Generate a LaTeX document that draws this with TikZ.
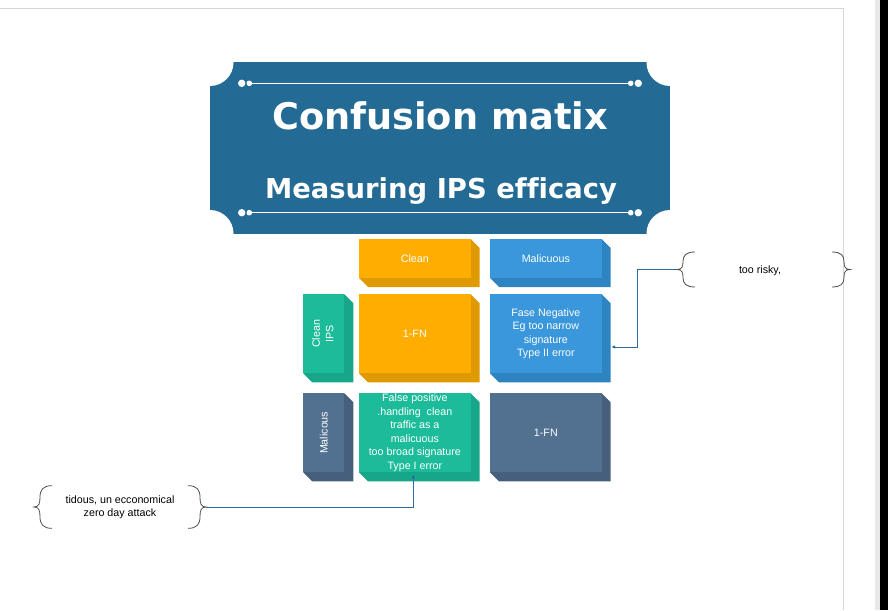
\documentclass[tikz,border=0pt]{standalone}
\usepackage{fontspec}
\setmainfont{Liberation Sans}
\newfontfamily\titlefont[Ligatures=NoCommon]{DejaVu Sans}
\usepackage{graphicx}
\usepackage{tikz}
\usetikzlibrary{arrows.meta,calc}
\pgfdeclarelayer{background}
\pgfsetlayers{background,main}

\definecolor{bannerblue}{HTML}{236A94}
\definecolor{orFront}{HTML}{FFAE00}
\definecolor{orSide}{HTML}{DE9A00}
\definecolor{blFront}{HTML}{3A97DB}
\definecolor{blSide}{HTML}{2E83C1}
\definecolor{tlFront}{HTML}{1CBC9B}
\definecolor{tlSide}{HTML}{17A689}
\definecolor{slFront}{HTML}{52708F}
\definecolor{slSide}{HTML}{455F7C}
\definecolor{linkblue}{HTML}{2B6A9B}
\definecolor{bracegray}{HTML}{505050}
\definecolor{framegray}{HTML}{D6D6D6}

\newcommand{\cellfont}{\fontsize{10.7}{13.5}\selectfont}

\tikzset{
  cell/.style={fill=#1, minimum width=111.7pt, minimum height=79pt, inner sep=0pt,
    outer sep=0pt, text=white, align=center, font=\cellfont},
  headcell/.style={cell=#1, minimum height=39pt},
  sidecell/.style={cell=#1, minimum width=41pt},
  note/.style={align=center, font=\cellfont, inner sep=0pt},
  link/.style={linkblue, line width=0.8pt},
  curly/.pic={
    \draw[bracegray, line width=0.8pt] (18,-17.5) .. controls (9,-17.5) and (6,-14) .. (6,-8)
      .. controls (6,-3) and (5,0) .. (0,0) .. controls (5,0) and (6,3) .. (6,8)
      .. controls (6,14) and (9,17.5) .. (18,17.5);
  }
}

\begin{document}
\begin{tikzpicture}[x=1pt, y=-1pt]
\useasboundingbox (0,0) rectangle (888,610);
% page edge and window border
\draw[framegray, line width=1pt] (0,8.5) -- (843.5,8.5) -- (843.5,610);
\fill[gray!18] (875,0) rectangle (880,610);
\fill[black] (880,0) rectangle (888,610);

% title banner with cut corners
\fill[bannerblue] (210,62.5) rectangle (670,233.5);
\foreach \cx/\cy in {210/62.5, 670/62.5, 210/233.5, 670/233.5}
  \fill[white] (\cx,\cy) circle[radius=23.5pt];
\foreach \ly in {83.3, 212.7} {
  \draw[white, line width=0.8pt] (249,\ly) -- (631,\ly);
  \fill[white] (241.7,\ly) circle[radius=3.7pt] (249.3,\ly) circle[radius=2.8pt]
    (630.7,\ly) circle[radius=2.8pt] (638.3,\ly) circle[radius=3.7pt];
}
\node[text=white, font=\titlefont\bfseries\fontsize{36.7}{42}\selectfont, anchor=base] (title) at (440,129) {Confusion matix};
\node[text=white, font=\titlefont\bfseries\fontsize{27.4}{32}\selectfont, anchor=base] (subtitle) at (441,198) {Measuring IPS efficacy};

% matrix cells (front faces)
\node[headcell=orFront, anchor=north west] (hclean) at (359,239) {Clean};
\node[headcell=blFront, anchor=north west] (hmal) at (490,239) {Malicuous};
\node[sidecell=tlFront, anchor=north west] (rclean) at (303.3,294.3)
  {\rotatebox{90}{\begin{tabular}{@{}c@{}}Clean\\IPS\end{tabular}}};
\node[cell=orFront, anchor=north west] (tn) at (359,294.3) {1-FN};
\node[cell=blFront, anchor=north west] (fneg) at (490,294.3)
  {Fase Negative\\Eg too narrow\\signature\\Type II error};
\node[sidecell=slFront, anchor=north west] (rmal) at (303.3,393.3) {\rotatebox{90}{Malicous}};
\node[cell=tlFront, anchor=north west] (fpos) at (359,393.3)
  {False positive\\.handling\ \ clean\\traffic as a\\malicuous\\too broad signature\\Type I error};
\node[cell=slFront, anchor=north west] (tp) at (490,393.3) {1-FN};

% extruded sides, behind the fronts
\begin{pgfonlayer}{background}
\foreach \n/\s in {hclean/orSide, hmal/blSide, rclean/tlSide, tn/orSide,
    fneg/blSide, rmal/slSide, fpos/tlSide, tp/slSide}
  \fill[\s] (\n.north west) -- (\n.north east) -- ++(9,9) |- ($(\n.south west)+(9,9)$)
    -- (\n.south west) -- cycle;
\end{pgfonlayer}

% notes
\node[note] (risky) at (760,270.5) {too risky,};
\pic at (677,269.5) {curly};
\pic[xscale=-1] at (850,269.5) {curly};
\coordinate (riskyTip) at (677,269.5);
\coordinate (fnegIn) at ($(fneg.east)+(9.5,13.2)$);
\draw[link, -{Latex[length=4pt,width=3.5pt]}] (riskyTip) -- ++(-40,0) |- (fnegIn);

\node[note] (tidous) at (120,507.3) {tidous, un ecconomical\\zero day attack};
\pic[yscale=1.22] at (34,507) {curly};
\pic[xscale=-1, yscale=1.22] at (206,507) {curly};
\coordinate (tidousTip) at (206,507);
\coordinate (fposIn) at ($(fpos.south)+(-1.5,2)$);
\draw[link, -{Latex[length=4pt,width=3.5pt]}] (tidousTip) -| (fposIn);
\end{tikzpicture}
\end{document}
